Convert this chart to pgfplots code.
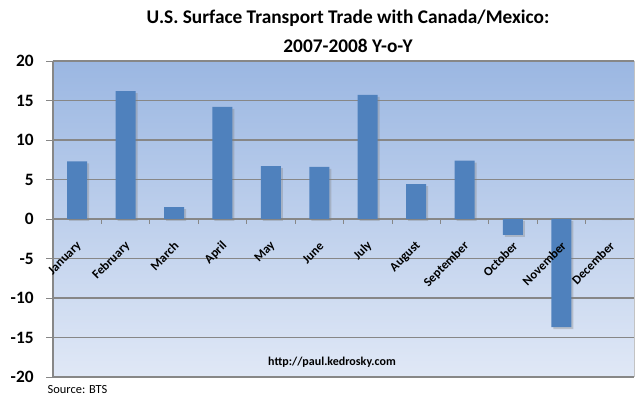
\documentclass[border=0pt]{standalone}
\usepackage{pgfplots}
\pgfplotsset{compat=1.18}
\usepackage{fontspec}
\setmainfont{Carlito}
\usetikzlibrary{shadows}
\definecolor{barblue}{RGB}{79,129,189}
\definecolor{bgtop}{RGB}{155,183,226}
\definecolor{bgbot}{RGB}{224,232,246}
\definecolor{gridgray}{RGB}{135,135,135}
\pgfplotsset{
  myframe/.style={
    at={(39.75pt,16.5pt)}, anchor=south west,
    scale only axis, width=435.75pt, height=237pt,
    xmin=-0.5, xmax=11.5, ymin=-20, ymax=20,
  },
}
\begin{document}
\begin{tikzpicture}[x=0.75pt,y=0.75pt]
\path[use as bounding box] (0,0) rectangle (640,399);
\begin{axis}[
  myframe,
  axis background/.style={top color=bgtop, bottom color=bgbot},
  axis x line*=middle,
  axis y line*=left,
  x axis line style={draw=gridgray, line width=0.8pt},
  y axis line style={draw=gridgray, line width=0.8pt},
  xtick={0,...,11},
  xticklabels={},
  major x tick style={draw=none},
  minor xtick={0.5,1.5,...,10.5},
  minor x tick style={draw=gridgray, line width=0.6pt},
  minor tick length=3.5pt,
  ytick={-20,-15,...,20},
  yticklabels={-20,-15,-10,-5,0,5,10,15,20},
  yticklabel style={font=\bfseries\fontsize{13}{14}\selectfont, xshift=-6pt},
  major y tick style={draw=gridgray, line width=0.6pt},
  tick align=outside,
  major tick length=5pt,
  ymajorgrids,
  y grid style={draw=gridgray, line width=0.8pt},
  clip=false,
]
\draw[gridgray!50, line width=0.6pt] (axis cs:11.5,-20) -- (axis cs:11.5,20);
\addplot[ybar, bar width=15pt, fill=barblue, draw=none,
  drop shadow={opacity=0.35, shadow xshift=1.5pt, shadow yshift=-1.5pt}]
  coordinates {(0,7.3) (1,16.2) (2,1.5) (3,14.2) (4,6.7) (5,6.6) (6,15.7) (7,4.4) (8,7.4) (9,-2.0) (10,-13.7) (11,0)};
\end{axis}
\begin{axis}[
  myframe,
  hide y axis,
  axis x line*=middle,
  x axis line style={draw=none},
  xtick={0,...,11},
  xticklabels={January,February,March,April,May,June,July,August,September,October,November,December},
  xtick style={draw=none},
  xticklabel style={rotate=45, anchor=east, font=\bfseries\fontsize{9.5}{10}\selectfont, xshift=-5pt, yshift=-11pt},
  tick align=outside,
  major tick length=5pt,
  clip=false,
]
\end{axis}
\node[font=\bfseries\fontsize{14.5}{16}\selectfont] at (348,381) {U.S. Surface Transport Trade with Canada/Mexico:};
\node[font=\bfseries\fontsize{14.5}{16}\selectfont] at (348,353) {2007-2008 Y-o-Y};
\node[font=\bfseries\fontsize{9}{11}\selectfont] at (332,37) {http://paul.kedrosky.com};
\node[anchor=west, font=\fontsize{9.3}{11}\selectfont] at (43,9) {Source: BTS};
\end{tikzpicture}
\end{document}
